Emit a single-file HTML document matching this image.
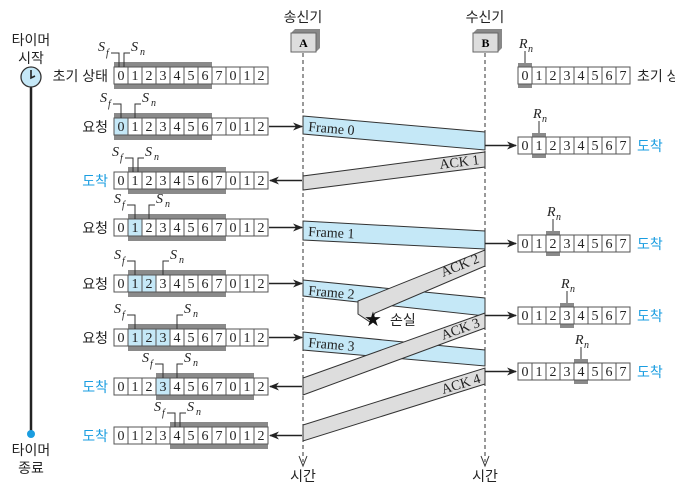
<!DOCTYPE html>
<html><head><meta charset="utf-8"><style>
html,body{margin:0;padding:0;background:#fff;}
svg{display:block;}
.k{font-family:"Liberation Sans","Noto Sans CJK KR",sans-serif;font-size:14px;fill:#222;}
.b{fill:#1a9de0;}
.d{font-family:"Liberation Serif",serif;font-size:14px;fill:#222;}
.i{font-family:"Liberation Serif",serif;font-style:italic;font-size:14px;fill:#222;}
.s{font-family:"Liberation Serif",serif;font-style:italic;font-size:10px;fill:#222;}
</style></head><body>
<svg id="g" width="675" height="496" viewBox="0 0 675 496" xmlns="http://www.w3.org/2000/svg">
<defs><marker id="ar" markerWidth="10" markerHeight="8" refX="9" refY="4" orient="auto" markerUnits="userSpaceOnUse"><path d="M0,0 L10,4 L0,8 L3,4z" fill="#222"/></marker></defs>
<text class="k" x="31" y="45" text-anchor="middle">타이머</text>
<text class="k" x="31" y="63" text-anchor="middle">시작</text>
<line x1="31" y1="86" x2="31" y2="434" stroke="#222" stroke-width="2.5"/>
<circle cx="31" cy="77" r="10" fill="#c5e8f7" stroke="#333" stroke-width="1.3"/>
<path d="M31,70 L31,78 L35,76" stroke="#222" stroke-width="1.6" fill="none"/>
<circle cx="31" cy="434" r="4" fill="#1a9de0"/>
<text class="k" x="31" y="455" text-anchor="middle">타이머</text>
<text class="k" x="31" y="473" text-anchor="middle">종료</text>
<text class="k" x="303" y="22" text-anchor="middle">송신기</text>
<text class="k" x="485" y="22" text-anchor="middle">수신기</text>
<path d="M291,33 L295,29 L320,29 L320,48 L316,52 Z" fill="#888"/>
<rect x="291" y="33" width="25" height="19" fill="#ddd" stroke="#666"/>
<text x="303.5" y="47" text-anchor="middle" style="font:bold 12px 'Liberation Serif',serif">A</text>
<path d="M473,33 L477,29 L502,29 L502,48 L498,52 Z" fill="#888"/>
<rect x="473" y="33" width="25" height="19" fill="#ddd" stroke="#666"/>
<text x="485.5" y="47" text-anchor="middle" style="font:bold 12px 'Liberation Serif',serif">B</text>
<line x1="303" y1="53" x2="303" y2="462" stroke="#333" stroke-dasharray="4,3"/>
<line x1="485" y1="53" x2="485" y2="462" stroke="#333" stroke-dasharray="4,3"/>
<path d="M299,456 L303,466 L307,456" fill="none" stroke="#333"/>
<path d="M481,456 L485,466 L489,456" fill="none" stroke="#333"/>
<text class="k" x="303" y="481" text-anchor="middle">시간</text>
<text class="k" x="485" y="481" text-anchor="middle">시간</text>
<g stroke="#333" stroke-width="1">
<polygon points="303,116 485,132 485,150 303,134" fill="#c5e8f7"/>
<polygon points="485,152 485,167 303,190 303,176" fill="#ddd"/>
<polygon points="303,221 485,231 485,249 303,240" fill="#c5e8f7"/>
<polygon points="303,280 485,298 485,316 303,296" fill="#c5e8f7"/>
<polygon points="485,250 485,266 375,313 370,322 358,314 358,301" fill="#ddd"/>
<polygon points="303,332 485,350 485,366 303,350" fill="#c5e8f7"/>
<polygon points="485,313 485,328 303,395 303,378" fill="#ddd"/>
<polygon points="485,368 485,384 303,441 303,425" fill="#ddd"/>
</g>
<text class="d" x="308" y="131" transform="rotate(5 308 131)">Frame 0</text>
<text class="d" x="308" y="236" transform="rotate(3 308 236)">Frame 1</text>
<text class="d" x="308" y="295" transform="rotate(5 308 295)">Frame 2</text>
<text class="d" x="308" y="347" transform="rotate(5 308 347)">Frame 3</text>
<text class="d" x="440" y="169" transform="rotate(-7 440 169)">ACK 1</text>
<text class="d" x="443" y="277" transform="rotate(-22 443 277)">ACK 2</text>
<text class="d" x="443" y="340" transform="rotate(-20 443 340)">ACK 3</text>
<text class="d" x="443" y="394" transform="rotate(-17 443 394)">ACK 4</text>
<text x="373" y="326" text-anchor="middle" style="font-size:20px;fill:#111">★</text>
<text class="k" x="390" y="325">손실</text>
<g id="rows"></g>
</svg>
<script>
var ns="http://www.w3.org/2000/svg",G=document.getElementById("rows");
function el(t,a,txt){var e=document.createElementNS(ns,t);for(var k in a)e.setAttribute(k,a[k]);if(txt!=null)e.textContent=txt;G.appendChild(e);return e;}
var seq=[0,1,2,3,4,5,6,7,0,1,2];
var S=[[67,0,[],0,0.35,"초기 상태",0],[118,0,[0],0,1,"요청",1],[172,1,[],1,1.3,"도착",-1],[219,1,[1],1,2,"요청",1],[275,1,[1,2],1,3,"요청",1],[329,1,[1,2,3],1,4,"요청",1],[378,3,[3],3,4,"도착",-1],[427,4,[],4,4.35,"도착",-1]];
S.forEach(function(r){
 var y=r[0],x0=114,w=14;
 el("rect",{x:x0+r[1]*w,y:y-5,width:7*w,height:27,fill:"#8a8a8a"});
 for(var i=0;i<11;i++){
  var blue=r[2].indexOf(i)>=0;
  el("rect",{x:x0+i*w,y:y,width:w,height:17,fill:blue?"#c5e8f7":"#fff"});
  el("text",{"class":"d",x:x0+i*w+7,y:y+13,"text-anchor":"middle"},seq[i]);
 }
 el("rect",{x:x0,y:y,width:154,height:17,fill:"none",stroke:"#555","stroke-width":1});
 for(var i=1;i<11;i++)el("line",{x1:x0+i*w,y1:y,x2:x0+i*w,y2:y+17,stroke:"#555"});
 var sf=x0+r[3]*w+7, sn=x0+Math.floor(r[4])*w+7;
 if(r[4]%1){sf=x0+r[3]*w+5;sn=sf+5;}
 el("path",{d:"M"+(sf-8)+","+(y-14)+" L"+sf+","+(y-14)+" L"+sf+","+y,stroke:"#333",fill:"none"});
 el("path",{d:"M"+sn+","+y+" L"+sn+","+(y-14)+" L"+(sn+6)+","+(y-14),stroke:"#333",fill:"none"});
 el("text",{"class":"i",x:sf-21,y:y-16},"S");el("text",{"class":"s",x:sf-13,y:y-11},"f");
 el("text",{"class":"i",x:sn+7,y:y-16},"S");el("text",{"class":"s",x:sn+16,y:y-12},"n");
 var lb=r[5];
 el("text",{"class":"k"+(lb=="도착"?" b":""),x:108,y:y+14,"text-anchor":"end"},lb);
 if(r[6]==1)el("line",{x1:269,y1:y+8.5,x2:302,y2:y+8.5,stroke:"#222","stroke-width":1.5,"marker-end":"url(#ar)"});
 if(r[6]==-1)el("line",{x1:302,y1:y+8.5,x2:270,y2:y+8.5,stroke:"#222","stroke-width":1.5,"marker-end":"url(#ar)"});
});
var R=[[67,0,"초기 상태",0],[137,1,"도착",1],[235,2,"도착",1],[307,3,"도착",1],[363,4,"도착",1]];
R.forEach(function(r){
 var y=r[0],x0=518,w=14,c=x0+r[1]*w;
 el("rect",{x:c,y:y-4,width:w,height:25,fill:"#8a8a8a"});
 for(var i=0;i<8;i++){
  el("rect",{x:x0+i*w,y:y,width:w,height:17,fill:"#fff"});
  el("text",{"class":"d",x:x0+i*w+7,y:y+13,"text-anchor":"middle"},i);
 }
 el("rect",{x:x0,y:y,width:112,height:17,fill:"none",stroke:"#555"});
 for(var i=1;i<8;i++)el("line",{x1:x0+i*w,y1:y,x2:x0+i*w,y2:y+17,stroke:"#555"});
 el("line",{x1:c+7,y1:y-4,x2:c+7,y2:y-16,stroke:"#333"});
 el("text",{"class":"i",x:c+1,y:y-19},"R");el("text",{"class":"s",x:c+10,y:y-15},"n");
 el("text",{"class":"k"+(r[3]?" b":""),x:637,y:y+14},r[2]);
 if(r[3])el("line",{x1:485,y1:y+8.5,x2:516,y2:y+8.5,stroke:"#222","stroke-width":1.5,"marker-end":"url(#ar)"});
});
</script>
</body></html>
